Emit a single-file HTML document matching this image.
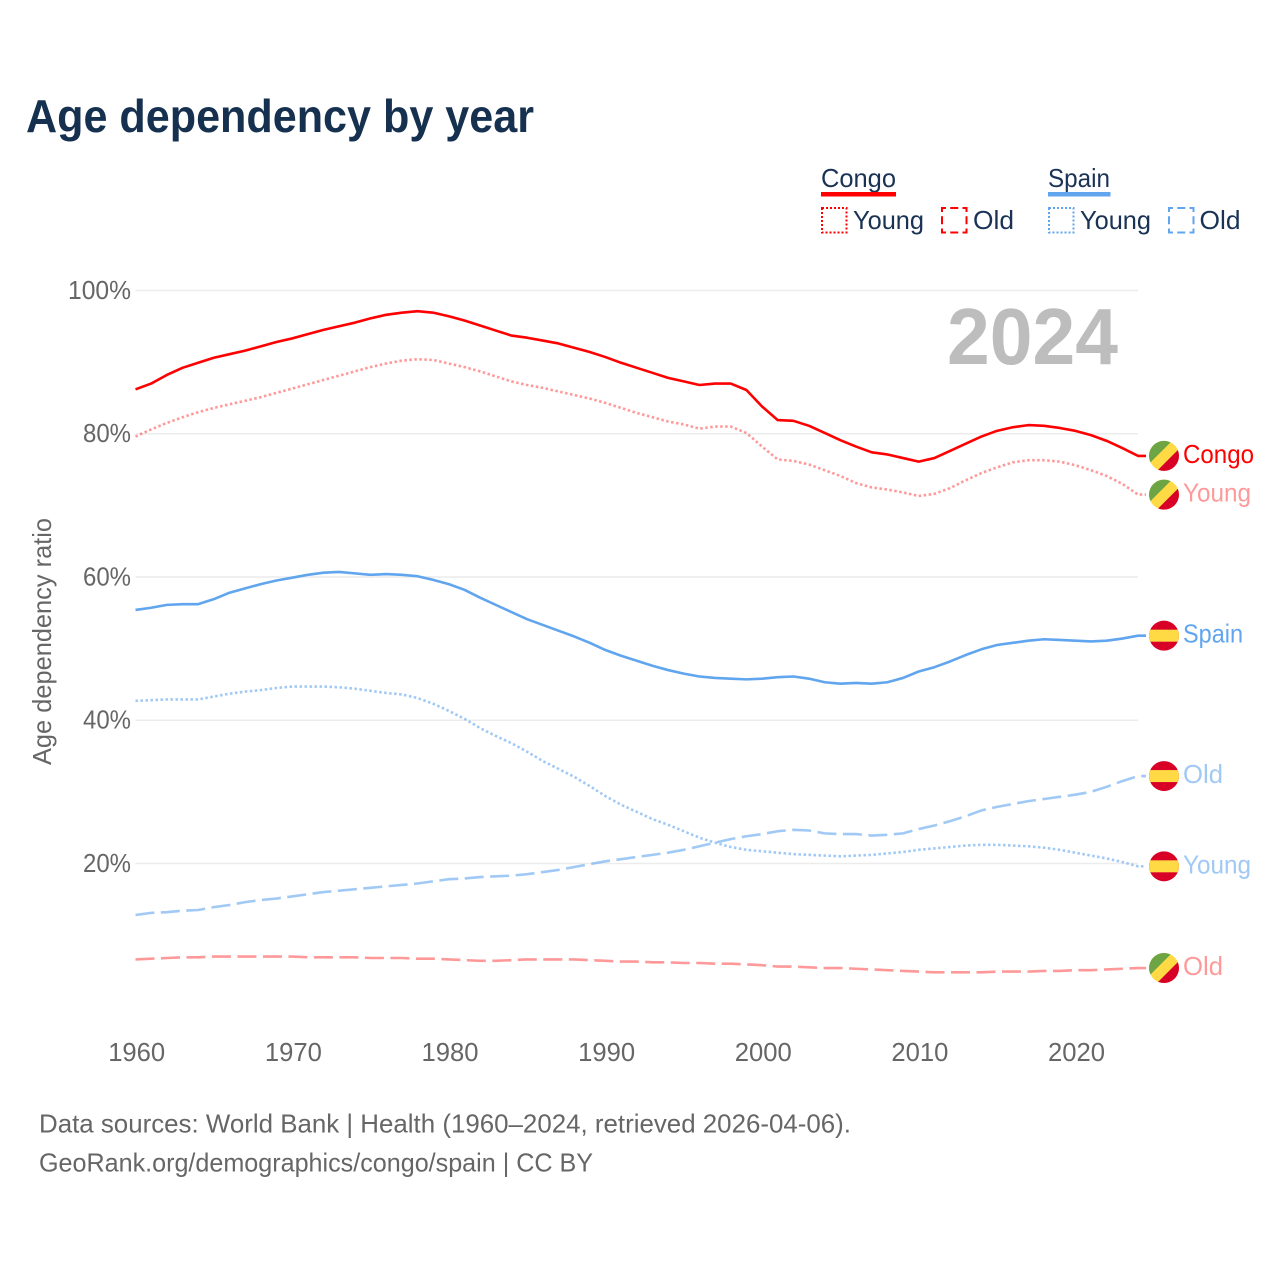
<!DOCTYPE html>
<html lang="en">
<head>
<meta charset="utf-8">
<title>Age dependency by year</title>
<style>
html,body{margin:0;padding:0;background:#fff;}
svg{display:block;font-family:"Liberation Sans",Arial,sans-serif;}
</style>
</head>
<body>
<svg id="chart" xmlns="http://www.w3.org/2000/svg" width="1280" height="1280" viewBox="0 0 1280 1280">
  <rect x="0" y="0" width="1280" height="1280" fill="#fff"/>
  <defs><clipPath id="flag-clip"><circle cx="0" cy="0" r="15"/></clipPath></defs>
  <text x="26" y="132" font-size="46" font-weight="700" fill="#16304f" textLength="508" lengthAdjust="spacingAndGlyphs">Age dependency by year</text>

  <g font-size="26" fill="#1a3355">
    <text x="821" y="187" textLength="75" lengthAdjust="spacingAndGlyphs">Congo</text>
    <rect x="821" y="192" width="75" height="4.5" fill="#ff0000"/>
    <rect x="822" y="208" width="24.5" height="24.5" fill="none" stroke="#ff0000" stroke-width="2" stroke-dasharray="2 2"/>
    <text x="853" y="229" textLength="71" lengthAdjust="spacingAndGlyphs">Young</text>
    <rect x="942" y="208" width="24.5" height="24.5" fill="none" stroke="#ff0000" stroke-width="2" stroke-dasharray="8 4.25" stroke-dashoffset="4"/>
    <text x="973" y="229" textLength="41" lengthAdjust="spacingAndGlyphs">Old</text>
    <text x="1048" y="187" textLength="62" lengthAdjust="spacingAndGlyphs">Spain</text>
    <rect x="1048" y="192" width="62.5" height="4.5" fill="#60a5ee"/>
    <rect x="1049" y="208" width="24.5" height="24.5" fill="none" stroke="#60a5ee" stroke-width="2" stroke-dasharray="2 2"/>
    <text x="1080" y="229" textLength="71" lengthAdjust="spacingAndGlyphs">Young</text>
    <rect x="1169" y="208" width="24.5" height="24.5" fill="none" stroke="#60a5ee" stroke-width="2" stroke-dasharray="8 4.25" stroke-dashoffset="4"/>
    <text x="1199.5" y="229" textLength="41" lengthAdjust="spacingAndGlyphs">Old</text>
  </g>

  <g id="grid"></g>
  <g id="yticks"></g>
  <g id="xticks"></g>
  <text x="1118" y="364" text-anchor="end" font-size="80" font-weight="700" fill="#bdbdbd" textLength="171" lengthAdjust="spacingAndGlyphs">2024</text>
  <text transform="translate(51 641.5) rotate(-90)" text-anchor="middle" font-size="26" fill="#666" textLength="247" lengthAdjust="spacingAndGlyphs">Age dependency ratio</text>
  <g id="series"></g>
  <g id="ends"></g>

  <text x="39" y="1132.5" font-size="26" fill="#666" textLength="812" lengthAdjust="spacingAndGlyphs">Data sources: World Bank | Health (1960–2024, retrieved 2026-04-06).</text>
  <text x="39" y="1171.5" font-size="26" fill="#666" textLength="554" lengthAdjust="spacingAndGlyphs">GeoRank.org/demographics/congo/spain | CC BY</text>
</svg>
<script>
const startYear = 1960;
const xTickYears = [1960, 1970, 1980, 1990, 2000, 2010, 2020];
const yTickValues = [20, 40, 60, 80, 100];
const yTickLabels = ["20%", "40%", "60%", "80%", "100%"];

const congoTotal = [86.2,87.0,88.2,89.2,89.9,90.6,91.1,91.6,92.2,92.8,93.3,93.9,94.5,95.0,95.5,96.1,96.6,96.9,97.1,96.9,96.4,95.8,95.1,94.4,93.7,93.4,93.0,92.6,92.0,91.4,90.7,89.9,89.2,88.5,87.8,87.3,86.8,87.0,87.0,86.1,83.8,81.9,81.8,81.1,80.1,79.1,78.2,77.4,77.1,76.6,76.1,76.6,77.6,78.6,79.6,80.4,80.9,81.2,81.1,80.8,80.4,79.8,79.0,78.0,76.9];
const congoYoung = [79.6,80.6,81.5,82.3,83.0,83.6,84.1,84.6,85.1,85.7,86.3,86.9,87.5,88.1,88.7,89.3,89.8,90.2,90.4,90.3,89.8,89.3,88.7,88.0,87.3,86.8,86.4,85.9,85.4,84.9,84.3,83.6,82.9,82.3,81.7,81.3,80.7,81.0,81.0,80.1,78.2,76.4,76.2,75.7,74.9,74.1,73.1,72.5,72.2,71.8,71.3,71.6,72.4,73.5,74.5,75.3,76.0,76.3,76.3,76.1,75.6,74.9,74.1,73.0,71.5];
const congoOld = [6.6,6.7,6.8,6.9,6.9,7.0,7.0,7.0,7.0,7.0,7.0,6.9,6.9,6.9,6.9,6.8,6.8,6.8,6.7,6.7,6.6,6.5,6.4,6.4,6.5,6.6,6.6,6.6,6.6,6.5,6.4,6.3,6.3,6.2,6.2,6.1,6.1,6.0,6.0,5.9,5.8,5.6,5.6,5.5,5.4,5.4,5.3,5.2,5.1,5.0,4.9,4.8,4.8,4.8,4.8,4.9,4.9,4.9,5.0,5.0,5.1,5.1,5.2,5.3,5.4];
const spainTotal = [55.4,55.7,56.1,56.2,56.2,56.9,57.8,58.4,59.0,59.5,59.9,60.3,60.6,60.7,60.5,60.3,60.4,60.3,60.1,59.6,59.0,58.2,57.1,56.1,55.1,54.1,53.3,52.5,51.7,50.8,49.8,49.0,48.3,47.6,47.0,46.5,46.1,45.9,45.8,45.7,45.8,46.0,46.1,45.8,45.3,45.1,45.2,45.1,45.3,45.9,46.8,47.4,48.2,49.1,49.9,50.5,50.8,51.1,51.3,51.2,51.1,51.0,51.1,51.4,51.8];
const spainYoung = [42.7,42.8,42.9,42.9,42.9,43.3,43.7,44.0,44.2,44.5,44.7,44.7,44.7,44.6,44.4,44.1,43.8,43.6,43.1,42.3,41.3,40.2,38.9,37.8,36.8,35.6,34.3,33.2,32.1,30.8,29.4,28.2,27.2,26.2,25.4,24.5,23.6,22.9,22.3,21.9,21.7,21.5,21.3,21.2,21.1,21.0,21.1,21.2,21.4,21.6,21.9,22.1,22.3,22.5,22.6,22.6,22.5,22.4,22.2,21.9,21.5,21.1,20.7,20.2,19.6];
const spainOld = [12.8,13.1,13.2,13.4,13.5,13.9,14.2,14.6,14.9,15.1,15.4,15.7,16.0,16.2,16.4,16.6,16.8,17.0,17.2,17.5,17.8,17.9,18.1,18.2,18.3,18.5,18.8,19.1,19.5,19.9,20.3,20.6,20.9,21.2,21.5,21.9,22.4,22.9,23.4,23.8,24.1,24.5,24.7,24.6,24.2,24.1,24.1,23.9,24.0,24.2,24.8,25.3,25.9,26.6,27.4,27.9,28.3,28.7,29.0,29.3,29.6,30.0,30.7,31.5,32.2];

const endLabels = ["Congo", "Young", "Spain", "Old", "Young", "Old"];

const NS = "http://www.w3.org/2000/svg";
const CONGO = "#ff0000", SPAIN = "#60a5ee";
function xScale(year){ return 135.5 + (year - startYear) * 15.664; }
function yScale(value){ return 1006.7 - value * 7.1625; }
function el(tag, attrs, parent){
  const node = document.createElementNS(NS, tag);
  for (const k in attrs) node.setAttribute(k, attrs[k]);
  parent.appendChild(node);
  return node;
}
const grid = document.getElementById("grid");
const yticks = document.getElementById("yticks");
const xticks = document.getElementById("xticks");
const seriesG = document.getElementById("series");
const ends = document.getElementById("ends");

yTickValues.forEach(function(v, i){
  const line = el("line", {x1: 135.5, x2: 1138, y1: yScale(v), y2: yScale(v), stroke: "#ececec", "stroke-width": 1.5}, grid);
  
  
  const t = el("text", {x: 131, y: yScale(v) + 8.5, "text-anchor": "end", "font-size": 26, fill: "#666", textLength: v === 100 ? 63 : 48, lengthAdjust: "spacingAndGlyphs"}, yticks);
  
  
  t.textContent = yTickLabels[i];
});
xTickYears.forEach(function(y){
  const t = el("text", {x: xScale(y) + 1.2, y: 1061, "text-anchor": "middle", "font-size": 26, fill: "#666", textLength: 57, lengthAdjust: "spacingAndGlyphs"}, xticks);
  
  
  t.textContent = String(y);
});

function drawSeries(values, color, opacity, dash, name){
  let d = "";
  values.forEach(function(v, i){
    d += (i ? "L" : "M") + xScale(startYear + i).toFixed(2) + " " + yScale(v).toFixed(2);
  });
  const last = yScale(values[values.length - 1]);
  d += "L" + (xScale(startYear + values.length - 1) + 8).toFixed(2) + " " + last.toFixed(2);
  const p = el("path", {d: d, fill: "none", stroke: color, "stroke-opacity": opacity, "stroke-width": 2.6, "stroke-linejoin": "round"}, seriesG);
  if (dash) p.setAttribute("stroke-dasharray", dash);
  
  
}
drawSeries(congoOld, CONGO, 0.4, "19 6.5", "congo-old-line");
drawSeries(spainOld, SPAIN, 0.6, "19 6.5", "spain-old-line");
drawSeries(spainYoung, SPAIN, 0.6, "2.5 2.5", "spain-young-line");
drawSeries(spainTotal, SPAIN, 1, "", "spain-total-line");
drawSeries(congoYoung, CONGO, 0.4, "2.5 2.5", "congo-young-line");
drawSeries(congoTotal, CONGO, 1, "", "congo-total-line");

function drawFlag(country, cy, name){
  const g = el("g", {transform: "translate(1164 " + cy + ")", "clip-path": "url(#flag-clip)"}, ends);
  
  
  if (country === "congo") {
    el("rect", {x: -16, y: -16, width: 32, height: 32, fill: "#ffda44"}, g);
    el("polygon", {points: "-16,-16 9,-16 -16,9", fill: "#6da544"}, g);
    el("polygon", {points: "16,16 16,-8 -8,16", fill: "#d80027"}, g);
  } else {
    el("rect", {x: -16, y: -16, width: 32, height: 32, fill: "#d80027"}, g);
    el("rect", {x: -16, y: -6, width: 32, height: 12, fill: "#ffda44"}, g);
  }
}
function drawEnd(values, country, label, color, opacity, base){
  const cy = yScale(values[values.length - 1]);
  drawFlag(country, cy, base + "-flag");
  const t = el("text", {x: 1183, y: cy + 7, "font-size": 26, fill: color, "fill-opacity": opacity}, ends);
  
  
  t.setAttribute("textLength", {Congo: 71, Young: 68, Spain: 60, Old: 40}[label]);
  t.setAttribute("lengthAdjust", "spacingAndGlyphs");
  t.textContent = label;
}
drawEnd(congoTotal, "congo", endLabels[0], CONGO, 1, "congo-total");
drawEnd(congoYoung, "congo", endLabels[1], CONGO, 0.4, "congo-young");
drawEnd(spainTotal, "spain", endLabels[2], SPAIN, 1, "spain-total");
drawEnd(spainOld, "spain", endLabels[3], SPAIN, 0.6, "spain-old");
drawEnd(spainYoung, "spain", endLabels[4], SPAIN, 0.6, "spain-young");
drawEnd(congoOld, "congo", endLabels[5], CONGO, 0.4, "congo-old");
</script>
</body>
</html>
